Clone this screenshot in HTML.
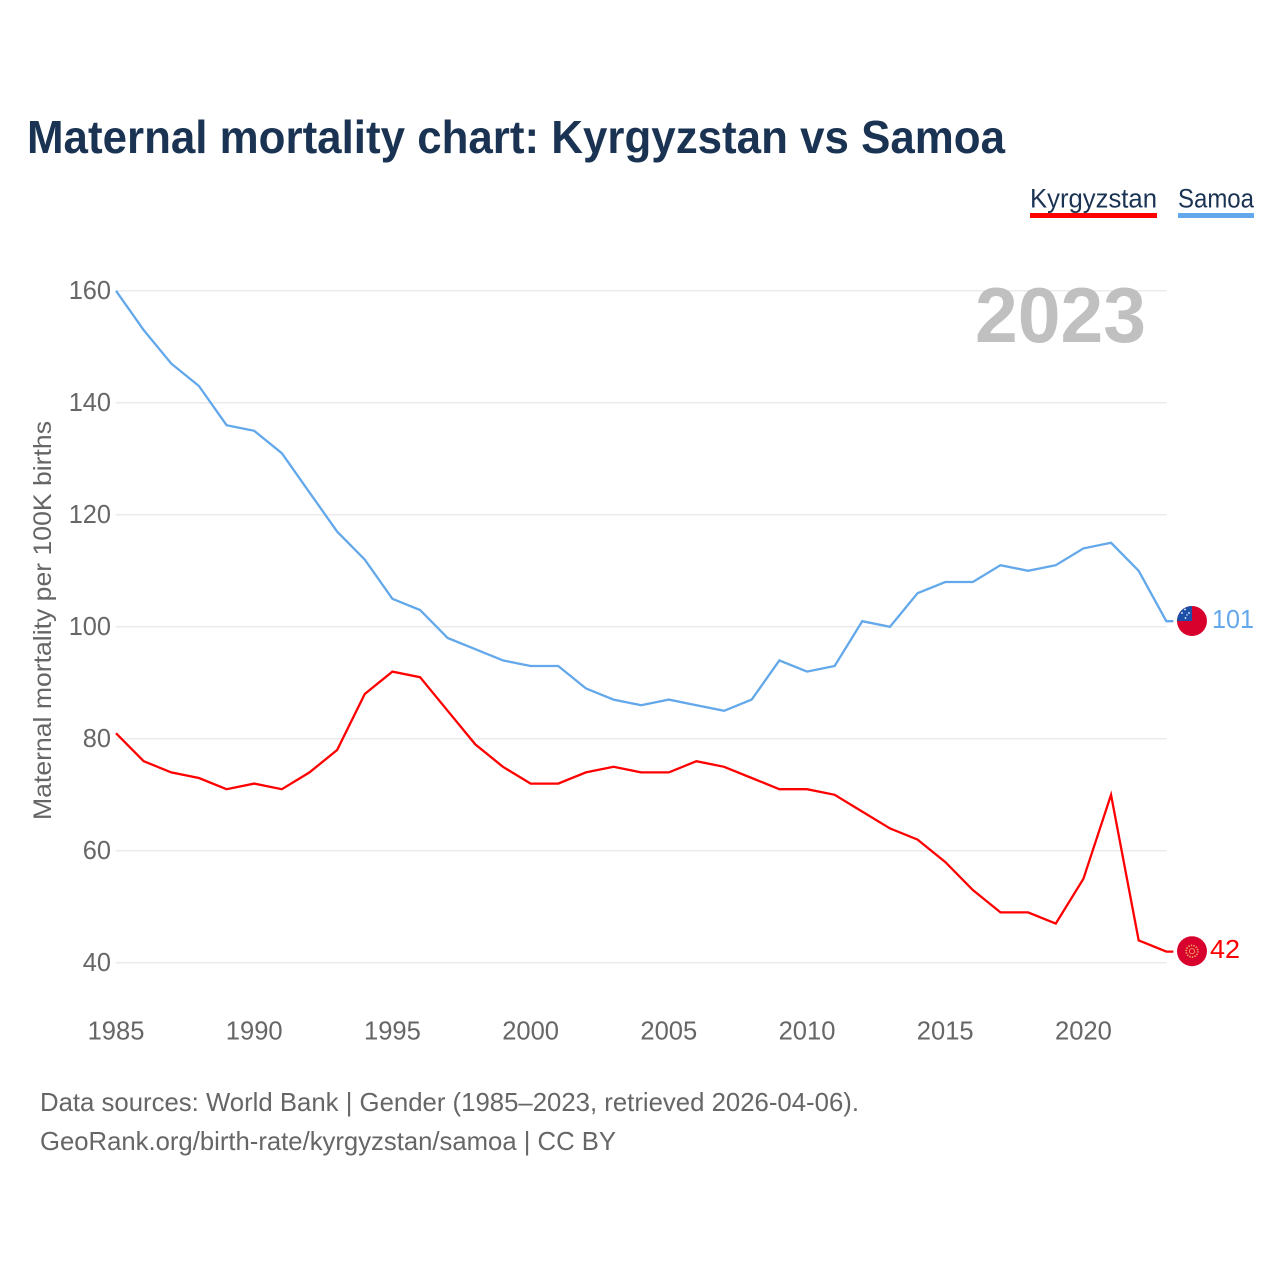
<!DOCTYPE html>
<html lang="en">
<head>
<meta charset="utf-8">
<title>Maternal mortality chart: Kyrgyzstan vs Samoa</title>
<style>
html,body{margin:0;padding:0;background:#fff;}
svg{display:block;font-family:"Liberation Sans",sans-serif;}
</style>
</head>
<body>
<svg id="chart" xmlns="http://www.w3.org/2000/svg" width="1280" height="1280" viewBox="0 0 1280 1280">
  <rect width="1280" height="1280" fill="#ffffff"/>
  <text x="27" y="153" font-size="46" font-weight="700" fill="#1a3353" textLength="978" lengthAdjust="spacingAndGlyphs">Maternal mortality chart: Kyrgyzstan vs Samoa</text>
  <g>
    <text x="1030" y="207.5" font-size="27" fill="#1a3353" textLength="127" lengthAdjust="spacingAndGlyphs">Kyrgyzstan</text>
    <rect x="1030" y="213" width="127" height="5" fill="#ff0000"/>
  </g>
  <g>
    <text x="1178" y="207.5" font-size="27" fill="#1a3353" textLength="76" lengthAdjust="spacingAndGlyphs">Samoa</text>
    <rect x="1178" y="213" width="76" height="5" fill="#62a8ea"/>
  </g>
  <g id="grid"></g>
  <g id="yticks"></g>
  <g id="xticks"></g>
  <text x="975" y="342" font-size="78" font-weight="700" fill="#c0c0c0" textLength="171" lengthAdjust="spacingAndGlyphs">2023</text>
  <text transform="translate(51 820) rotate(-90)" x="0" y="0" font-size="25" fill="#666666" textLength="399" lengthAdjust="spacingAndGlyphs">Maternal mortality per 100K births</text>
  <g id="series"></g>
  <defs>
    <clipPath id="clip-samoa"><circle id="clip-samoa-circle" cx="1192" cy="621" r="15"/></clipPath>
  </defs>
  <g id="flag-samoa">
    <g clip-path="url(#clip-samoa)">
      <rect x="1177" y="606" width="30" height="30" fill="#d8002d"/>
      <rect x="1177" y="606" width="15" height="15" fill="#1b4fa8"/>
      <circle cx="1185" cy="609.5" r="0.9" fill="#fff"/>
      <circle cx="1189" cy="613" r="0.9" fill="#fff"/>
      <circle cx="1182" cy="613" r="0.9" fill="#fff"/>
      <circle cx="1187" cy="615" r="0.7" fill="#fff"/>
      <circle cx="1185.5" cy="618" r="0.9" fill="#fff"/>
    </g>
  </g>
  <g id="flag-kyrgyzstan">
    <circle cx="1192" cy="951.2" r="15" fill="#d8002d"/>
    <circle cx="1192" cy="951.2" r="5.8" fill="none" stroke="#f0a05a" stroke-width="1.8" stroke-dasharray="1.4 1.2"/>
    <circle cx="1192" cy="951.2" r="2.6" fill="none" stroke="#f0a05a" stroke-width="0.9"/>
  </g>
  <text id="value-samoa" x="1212" y="628" font-size="26" fill="#62a8ea" textLength="42" lengthAdjust="spacingAndGlyphs">101</text>
  <text id="value-kyrgyzstan" x="1210" y="958" font-size="26" fill="#ff0000" textLength="30" lengthAdjust="spacingAndGlyphs">42</text>
  <text x="40" y="1111" font-size="26" fill="#666666" textLength="819" lengthAdjust="spacingAndGlyphs">Data sources: World Bank | Gender (1985–2023, retrieved 2026-04-06).</text>
  <text x="40" y="1150" font-size="26" fill="#666666" textLength="576" lengthAdjust="spacingAndGlyphs">GeoRank.org/birth-rate/kyrgyzstan/samoa | CC BY</text>
</svg>
<script>
const years = [1985,1986,1987,1988,1989,1990,1991,1992,1993,1994,1995,1996,1997,1998,1999,2000,2001,2002,2003,2004,2005,2006,2007,2008,2009,2010,2011,2012,2013,2014,2015,2016,2017,2018,2019,2020,2021,2022,2023];
const samoa = [160,153,147,143,136,135,131,124,117,112,105,103,98,96,94,93,93,89,87,86,87,86,85,87,94,92,93,101,100,106,108,108,111,110,111,114,115,110,101];
const kyrgyzstan = [81,76,74,73,71,72,71,74,78,88,92,91,85,79,75,72,72,74,75,74,74,76,75,73,71,71,70,67,64,62,58,53,49,49,47,55,70,44,42];
const yTickValues = [40,60,80,100,120,140,160];
const xTickValues = [1985,1990,1995,2000,2005,2010,2015,2020];

const NS = 'http://www.w3.org/2000/svg';
const xScale = function (year) { return 116 + (year - 1985) * 27.64; };
const yScale = function (value) { return 962.8 - (value - 40) * 5.6; };
const gridLayer = document.getElementById('grid');
const yLayer = document.getElementById('yticks');
const xLayer = document.getElementById('xticks');
const seriesLayer = document.getElementById('series');

yTickValues.forEach(function (v) {
  const line = document.createElementNS(NS, 'line');
  
  
  line.setAttribute('x1', 116);
  line.setAttribute('x2', 1167);
  line.setAttribute('y1', yScale(v));
  line.setAttribute('y2', yScale(v));
  line.setAttribute('stroke', '#ebebeb');
  line.setAttribute('stroke-width', 1.5);
  gridLayer.appendChild(line);

  const label = document.createElementNS(NS, 'text');
  
  
  label.setAttribute('x', 111);
  label.setAttribute('y', yScale(v) + 8);
  label.setAttribute('text-anchor', 'end');
  label.setAttribute('font-size', 26);
  label.setAttribute('textLength', String(v).length * 14.1);
  label.setAttribute('lengthAdjust', 'spacingAndGlyphs');
  label.setAttribute('fill', '#666666');
  label.textContent = String(v);
  yLayer.appendChild(label);
});

xTickValues.forEach(function (v) {
  const label = document.createElementNS(NS, 'text');
  
  
  label.setAttribute('x', xScale(v));
  label.setAttribute('y', 1039.5);
  label.setAttribute('text-anchor', 'middle');
  label.setAttribute('font-size', 26);
  label.setAttribute('textLength', String(v).length * 14.2);
  label.setAttribute('lengthAdjust', 'spacingAndGlyphs');
  label.setAttribute('fill', '#666666');
  label.textContent = String(v);
  xLayer.appendChild(label);
});

function drawSeries(values, color, name) {
  const pts = values.map(function (v, i) { return [xScale(years[i]), yScale(v)]; });
  const last = pts[pts.length - 1];
  pts.push([last[0] + 7, last[1]]);
  const path = document.createElementNS(NS, 'polyline');
  
  
  path.setAttribute('points', pts.map(function (p) { return p[0].toFixed(2) + ',' + p[1].toFixed(2); }).join(' '));
  path.setAttribute('fill', 'none');
  path.setAttribute('stroke', color);
  path.setAttribute('stroke-width', 2.3);
  path.setAttribute('stroke-linejoin', 'miter');
  path.setAttribute('stroke-miterlimit', 10);
  seriesLayer.appendChild(path);
}
drawSeries(samoa, '#62a8ea', 'line-samoa');
drawSeries(kyrgyzstan, '#ff0000', 'line-kyrgyzstan');

function placeEnd(values, flagId, labelId, cy, textOffset) {
  const last = values[values.length - 1];
  const dy = yScale(last) - cy;
  document.getElementById(flagId).setAttribute('transform', 'translate(0 ' + dy.toFixed(2) + ')');
  const label = document.getElementById(labelId);
  label.setAttribute('y', (yScale(last) + textOffset).toFixed(2));
  label.textContent = String(last);
}
placeEnd(samoa, 'flag-samoa', 'value-samoa', 621.2, 7);
placeEnd(kyrgyzstan, 'flag-kyrgyzstan', 'value-kyrgyzstan', 951.6, 6.5);
</script>
</body>
</html>
